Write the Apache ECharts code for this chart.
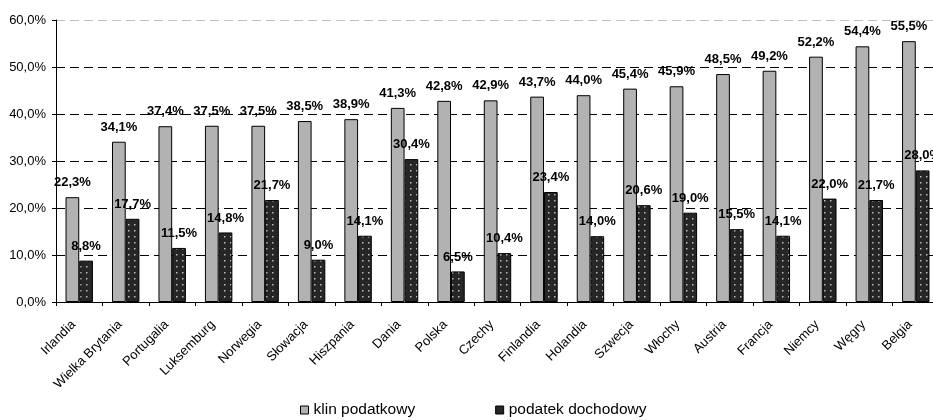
<!DOCTYPE html>
<html>
<head>
<meta charset="utf-8">
<script src="https://cdn.jsdelivr.net/npm/echarts@6/dist/echarts.min.js"></script>
<style>
html,body{margin:0;padding:0;background:#fff;overflow:hidden;width:933px;height:420px;}
#chart{width:945px;height:420px;}
</style>
</head>
<body>
<div id="chart"></div>
<script>
var categories = ['Irlandia','Wielka Brytania','Portugalia','Luksemburg','Norwegia','Słowacja','Hiszpania','Dania','Polska','Czechy','Finlandia','Holandia','Szwecja','Włochy','Austria','Francja','Niemcy','Węgry','Belgia'];
var klinPodatkowy = [22.3,34.1,37.4,37.5,37.5,38.5,38.9,41.3,42.8,42.9,43.7,44.0,45.4,45.9,48.5,49.2,52.2,54.4,55.5];
var podatekDochodowy = [8.8,17.7,11.5,14.8,21.7,9.0,14.1,30.4,6.5,10.4,23.4,14.0,20.6,19.0,15.5,14.1,22.0,21.7,28.0];
var seriesNames = ['klin podatkowy','podatek dochodowy'];
var yTicks = [0,10,20,30,40,50,60];

function pct(v){ return Number(v).toFixed(1).replace('.', ',') + '%'; }

// dotted dark pattern
var pc = document.createElement('canvas');
pc.width = 6; pc.height = 6;
var pctx = pc.getContext('2d');
pctx.fillStyle = '#262626';
pctx.fillRect(0,0,6,6);
pctx.fillStyle = '#bdbdbd';
pctx.fillRect(2,2,1.5,1.5);

var FONT = 'Liberation Sans, Arial, sans-serif';
var chart = echarts.init(document.getElementById('chart'), null, {renderer:'canvas'});
var labelCfg = {
  show: true, position: 'top', distance: 8,
  fontFamily: FONT, fontSize: 13, fontWeight: 'bold', color: '#000',
  formatter: function(p){ return pct(p.value); }
};
chart.setOption({
  animation: false,
  backgroundColor: '#fff',
  grid: {left: 56, right: 6, top: 20, bottom: 118, containLabel: false, outerBoundsMode: 'none'},
  legend: {
    left: 300, top: 402, padding: 0, itemWidth: 8, itemHeight: 8, itemGap: 80, itemTextGap: 7,
    textStyle: {fontFamily: FONT, fontSize: 15.5, color: '#000'},
    data: [
      {name: seriesNames[0], icon: 'rect', itemStyle: {color: '#b2b2b2', borderColor: '#000', borderWidth: 1}},
      {name: seriesNames[1], icon: 'rect', itemStyle: {color: '#262626', borderColor: '#000', borderWidth: 1}}
    ]
  },
  xAxis: {
    type: 'category', data: categories,
    axisLine: {show: true, lineStyle: {color: '#000', width: 1}},
    axisTick: {show: true, length: 4, interval: 0, alignWithLabel: false, lineStyle: {color: '#000'}},
    axisLabel: {interval: 0, rotate: 45, margin: 15, padding: [0, 8, 0, 0], fontFamily: FONT, fontSize: 13, color: '#000'},
    splitLine: {show: false}
  },
  yAxis: {
    type: 'value', min: yTicks[0], max: yTicks[yTicks.length-1], interval: 10,
    axisLine: {show: true, lineStyle: {color: '#000', width: 1}},
    axisTick: {show: true, length: 4, lineStyle: {color: '#000'}},
    axisLabel: {margin: 10, fontFamily: FONT, fontSize: 13, color: '#000', formatter: function(v){ return pct(v); }},
    splitLine: {show: true, lineStyle: {color: ['#000','#000','#000','#000','#000','#000','#c0c0c0'], type: [9,5], width: 1}}
  },
  series: [
    {
      name: seriesNames[0], type: 'bar', data: klinPodatkowy,
      barGap: '0%', barCategoryGap: '41%',
      itemStyle: {color: '#b2b2b2', borderColor: '#000', borderWidth: 1},
      label: labelCfg
    },
    {
      name: seriesNames[1], type: 'bar', data: podatekDochodowy,
      barGap: '0%', barCategoryGap: '41%',
      itemStyle: {color: {image: pc, repeat: 'repeat'}, borderColor: '#000', borderWidth: 1},
      label: labelCfg
    }
  ]
});
</script>
</body>
</html>
